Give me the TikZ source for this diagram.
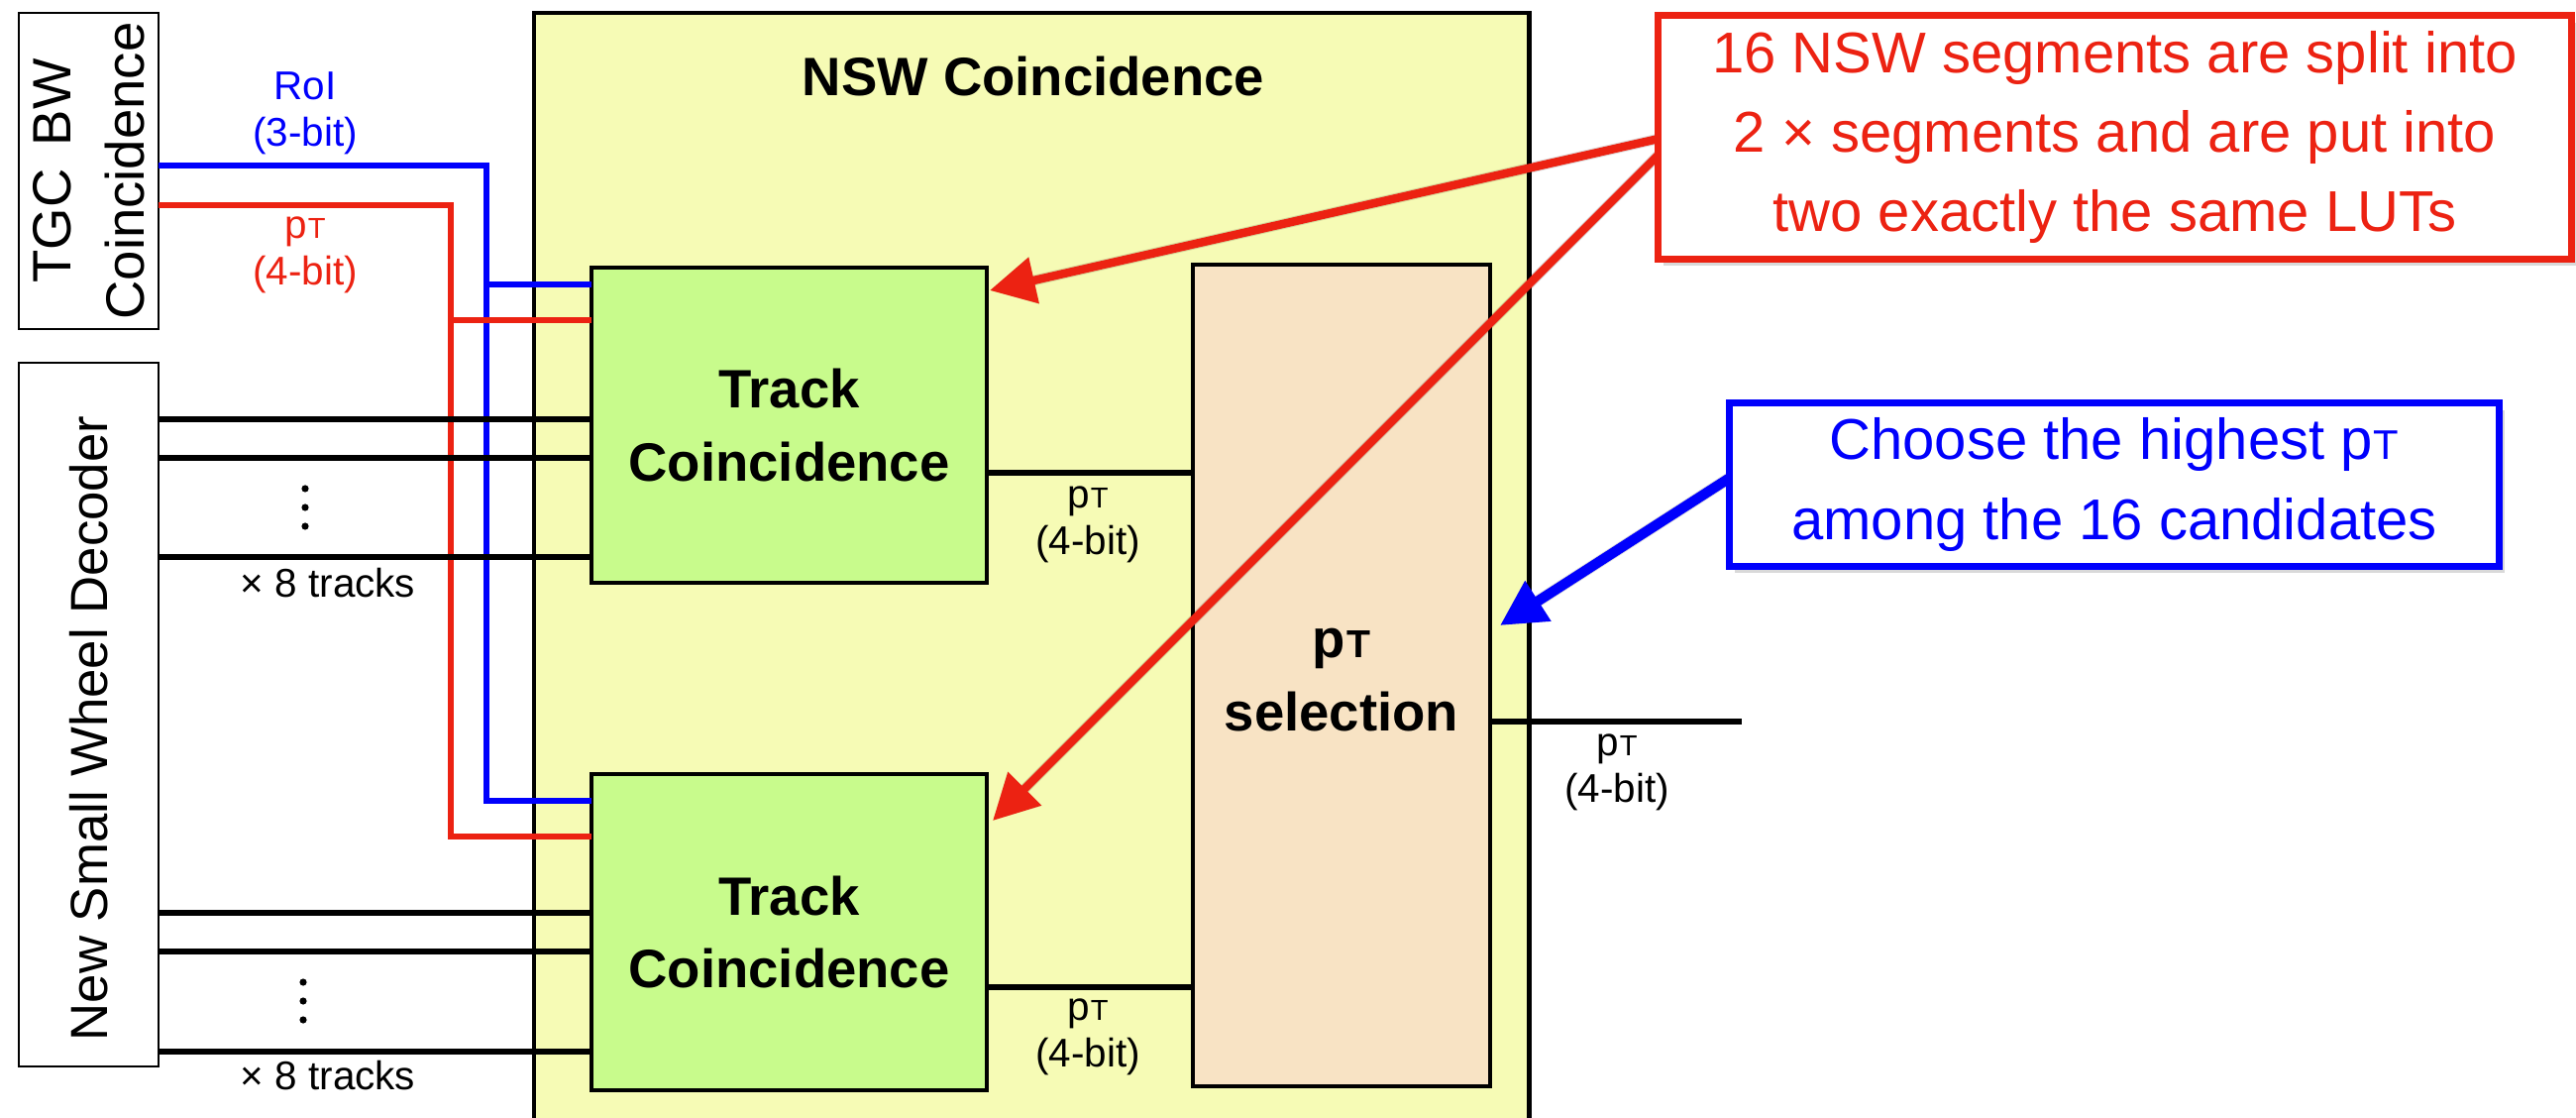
\documentclass[tikz,border=0pt]{standalone}
\usepackage{fontspec}
\setmainfont{Liberation Sans}
\usepackage{graphicx}
\usetikzlibrary{arrows.meta,shadows}

% p with a small capital T, as used for transverse momentum
\newcommand{\ptsym}{p\kern0.3pt\scalebox{0.72}{T}}

\definecolor{nswyellow}{RGB}{246,251,181}
\definecolor{trackgreen}{RGB}{200,251,140}
\definecolor{selpeach}{RGB}{248,227,196}
\definecolor{sigred}{RGB}{236,34,18}
\definecolor{sigblue}{RGB}{0,0,252}

\begin{document}
\begin{tikzpicture}[x=0.01cm, y=-0.01cm,
  every node/.style={inner sep=0pt, outer sep=0pt},
  srcbox/.style={rectangle, draw=black, line width=0.6pt, fill=white},
  unitbox/.style={rectangle, draw=black, line width=1.2pt},
  wire/.style={line width=1.5pt},
  roiwire/.style={wire, draw=sigblue},
  ptwire/.style={wire, draw=sigred},
  lbl/.style={font=\fontsize{11.5}{13.3}\selectfont, align=center},
  sidelbl/.style={font=\fontsize{15.5}{21}\selectfont, align=center, rotate=90},
  boldlbl/.style={font=\bfseries\fontsize{15.5}{20.8}\selectfont, align=center},
  note/.style={rectangle, line width=2pt, fill=white,
    drop shadow={shadow xshift=1.5pt, shadow yshift=-2pt, opacity=0.3},
    font=\fontsize{16.5}{22.8}\selectfont, align=center},
  callarrow/.style={line width=2.4pt, -{Triangle[length=13pt,width=13pt]}},
  arrowshade/.style={line width=3pt, draw=black, opacity=0.13,
    -{Triangle[length=13pt,width=13pt]}, shift={(4,6)}}
]
\useasboundingbox (0,0) rectangle (2600,1128);
\begin{scope}
\clip (0,0) rectangle (2600,1128);

% outer coincidence unit (runs past the lower edge)
\node[unitbox, fill=nswyellow, anchor=north west, minimum width=10.04cm, minimum height=11.4cm] (nsw) at (539,13) {};
\node[font=\bfseries\fontsize{15.5}{18}\selectfont] (nswtitle) at (1043,77) {NSW Coincidence};

% source boxes on the left
\node[srcbox, minimum width=1.41cm, minimum height=3.19cm] (tgc) at (89.5,172.5) {};
\node[sidelbl] (tgctext) at (tgc.center) {TGC\hspace{0.15em} BW\\Coincidence};
\node[srcbox, minimum width=1.41cm, minimum height=7.10cm] (dec) at (89.5,721) {};
\node[sidelbl, font=\fontsize{15}{20}\selectfont] (dectext) at (89.5,735) {New Small Wheel Decoder};

% processing blocks
\node[unitbox, fill=trackgreen, minimum width=3.99cm, minimum height=3.18cm] (trk1) at (796.5,429) {};
\node[boldlbl] (trk1text) at (trk1.center) {Track\\Coincidence};
\node[unitbox, fill=trackgreen, minimum width=3.99cm, minimum height=3.19cm] (trk2) at (796.5,940.5) {};
\node[boldlbl] (trk2text) at (trk2.center) {Track\\Coincidence};
\node[unitbox, fill=selpeach, minimum width=3.00cm, minimum height=8.29cm] (sel) at (1354,681.5) {};
\node[boldlbl] (seltext) at (1354,686) {\ptsym\\selection};

% RoI bus (blue) and pT bus (red) from the TGC coincidence
\coordinate (bA) at (491,167);
\coordinate (bB) at (491,808);
\coordinate (bC) at (491,287);
\coordinate (rA) at (455,207);
\coordinate (rB) at (455,844);
\coordinate (rC) at (455,323);
\draw[roiwire] (tgc.east |- bA) -- (bA) -- (bB) -- (trk2.west |- bB);
\draw[roiwire] (bC) -- (trk1.west |- bC);
\draw[ptwire] (tgc.east |- rA) -- (rA) -- (rB) -- (trk2.west |- rB);
\draw[ptwire] (rC) -- (trk1.west |- rC);
\node[lbl, text=sigblue] (roilbl) at (308,114) {RoI\\(3-bit)};
\node[lbl, text=sigred] (ptinlbl) at (308,257) {\ptsym\\(4-bit)};

% track inputs from the decoder
\foreach \yy in {423,462,562}
  \draw[wire] (dec.east |- 0,\yy) -- (trk1.west |- 0,\yy);
\foreach \yy in {921,960,1061}
  \draw[wire] (dec.east |- 0,\yy) -- (trk2.west |- 0,\yy);
\foreach \yy in {493,512,531}
  \fill (308,\yy) circle[radius=3.6];
\foreach \yy in {991,1010,1029}
  \fill (306,\yy) circle[radius=3.6];
\node[lbl] (cnt1) at (331,588) {× 8 tracks};
\node[lbl] (cnt2) at (331,1085) {× 8 tracks};

% candidate outputs into the selection
\draw[wire] (trk1.east |- 0,477) -- (sel.west |- 0,477);
\draw[wire] (trk2.east |- 0,996) -- (sel.west |- 0,996);
\node[lbl] (o1lbl) at (1098,529) {\ptsym\\(4-bit)};
\node[lbl] (o2lbl) at (1098,1046) {\ptsym\\(4-bit)};
\coordinate (selout) at (1758,728);
\draw[wire] (sel.east |- selout) -- (selout);
\node[lbl] (outlbl) at (1632,779) {\ptsym\\(4-bit)};

% explanatory notes
\coordinate (tipA) at (999,293);
\coordinate (tipB) at (1002,828);
\coordinate (tipC) at (1514,631);
\coordinate (srcA) at (1674,140);
\coordinate (srcB) at (1674,156);
\coordinate (srcC) at (1746,482);
\draw[arrowshade] (srcA) -- (tipA);
\draw[arrowshade] (srcB) -- (tipB);
\draw[arrowshade, line width=3.4pt] (srcC) -- (tipC);
\draw[callarrow, draw=sigred, fill=sigred] (srcA) -- (tipA);
\draw[callarrow, draw=sigred, fill=sigred] (srcB) -- (tipB);
\draw[callarrow, line width=2.9pt, draw=sigblue, fill=sigblue] (srcC) -- (tipC);

\node[note, draw=sigred, text=sigred, minimum width=9.21cm, minimum height=2.45cm] (noteR) at (2134.5,138.5)
  {16 NSW segments are split into\\2 × segments and are put into\\two exactly the same LUTs};
\node[note, draw=sigblue, text=sigblue, minimum width=7.76cm, minimum height=1.64cm] (noteB) at (2134,489)
  {Choose the highest \ptsym\\among the 16 candidates};
\end{scope}
\end{tikzpicture}
\end{document}
